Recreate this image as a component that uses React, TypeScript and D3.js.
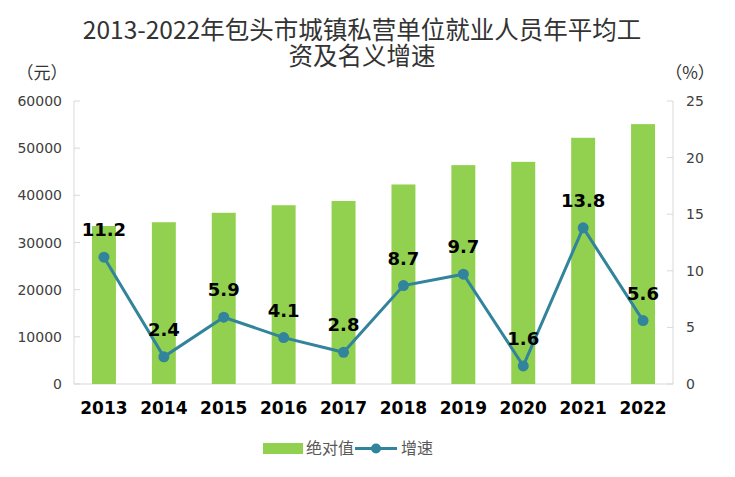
import React from "react";
import * as d3 from "d3";

const years = ["2013","2014","2015","2016","2017","2018","2019","2020","2021","2022"];
const wages = [33500, 34300, 36300, 37900, 38800, 42300, 46400, 47100, 52200, 55100];
const growth = [11.2, 2.4, 5.9, 4.1, 2.8, 8.7, 9.7, 1.6, 13.8, 5.6];
const leftTicks = [0, 10000, 20000, 30000, 40000, 50000, 60000];
const rightTicks = [0, 5, 10, 15, 20, 25];
const titleLines = ["2013-2022年包头市城镇私营单位就业人员年平均工", "资及名义增速"];
const legendLabels = ["绝对值", "增速"];

const W = 735, H = 477;
const X0 = 74, X1 = 673, Y0 = 384, Y1 = 101;
const GREEN = "#92d050";
const TEAL = "#31849b";
const AXIS = "#d9d9d9";
const TXT = "#404040";

export default function App() {
  const x = d3.scaleBand<string>().domain(years).range([X0, X1]).paddingInner(0.6).paddingOuter(0.3);
  const yL = d3.scaleLinear().domain([0, 60000]).range([Y0, Y1]);
  const yR = d3.scaleLinear().domain([0, 25]).range([Y0, Y1]);
  const cx = (d: string) => (x(d) ?? 0) + x.bandwidth() / 2;
  const line = d3.line<number>().x((_, i) => cx(years[i])).y((v) => yR(v));
  const cjk = "'Noto Sans CJK SC', sans-serif";
  const dv = "'DejaVu Sans', sans-serif";

  return (
    <svg width={W} height={H} style={{ position: "absolute", left: 0, top: 0, background: "#fff" }}>
      <text textAnchor="middle" fontFamily={cjk} fontSize={24.5} fill="#333">
        {titleLines.map((t, i) => (
          <tspan key={i} x={362} y={39 + i * 26}>{t}</tspan>
        ))}
      </text>
      <text x={42} y={79} textAnchor="middle" fontFamily={cjk} fontSize={17} fill="#333">（元）</text>
      <text x={690} y={79} textAnchor="middle" fontFamily={cjk} fontSize={17} fill="#333">（%）</text>

      {/* axes */}
      <line x1={X0} x2={X0} y1={Y1} y2={Y0} stroke={AXIS} />
      <line x1={X1} x2={X1} y1={Y1} y2={Y0} stroke={AXIS} />
      <line x1={X0} x2={X1} y1={Y0} y2={Y0} stroke={AXIS} />
      {leftTicks.map((t) => (
        <g key={"l" + t}>
          <line x1={X0} x2={X0 + 6} y1={yL(t)} y2={yL(t)} stroke={AXIS} />
          <text x={62} y={yL(t) + 5} textAnchor="end" fontFamily={dv} fontSize={14} fill={TXT}>{t}</text>
        </g>
      ))}
      {rightTicks.map((t) => (
        <g key={"r" + t}>
          <line x1={X1 - 6} x2={X1} y1={yR(t)} y2={yR(t)} stroke={AXIS} />
          <text x={686} y={yR(t) + 5} textAnchor="start" fontFamily={dv} fontSize={14} fill={TXT}>{t}</text>
        </g>
      ))}

      {/* bars */}
      {wages.map((v, i) => (
        <rect key={"b" + i} x={x(years[i])} y={yL(v)} width={x.bandwidth()} height={Y0 - yL(v)} fill={GREEN} />
      ))}

      {/* line */}
      <path d={line(growth) ?? ""} fill="none" stroke={TEAL} strokeWidth={3} />
      {growth.map((v, i) => (
        <circle key={"c" + i} cx={cx(years[i])} cy={yR(v)} r={5.5} fill={TEAL} />
      ))}
      {growth.map((v, i) => (
        <text key={"t" + i} x={cx(years[i])} y={yR(v) - 21} textAnchor="middle" fontFamily={dv} fontWeight="bold" fontSize={18} fill="#000">{v.toFixed(1)}</text>
      ))}

      {/* x labels */}
      {years.map((yr) => (
        <text key={yr} x={cx(yr)} y={414} textAnchor="middle" fontFamily={dv} fontWeight="bold" fontSize={17} fill="#000">{yr}</text>
      ))}

      {/* legend */}
      <rect x={263} y={443} width={40} height={11} fill={GREEN} />
      <text x={306} y={454} fontFamily={cjk} fontSize={16} fill="#595959">{legendLabels[0]}</text>
      <line x1={355} x2={397} y1={448.5} y2={448.5} stroke={TEAL} strokeWidth={3} />
      <circle cx={376} cy={448.5} r={5} fill={TEAL} />
      <text x={401} y={454} fontFamily={cjk} fontSize={16} fill="#595959">{legendLabels[1]}</text>
    </svg>
  );
}
